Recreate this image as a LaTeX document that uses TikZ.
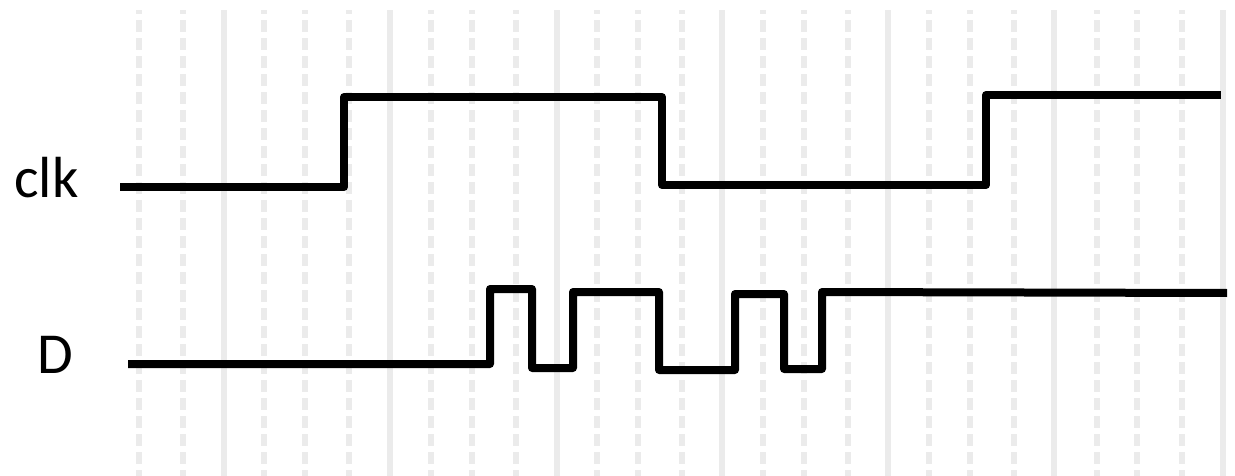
\documentclass[tikz,border=0pt]{standalone}
\usepackage{fontspec}
\setmainfont{Carlito}
\tikzset{
  gridsolid/.style={draw=black!8, line width=6pt},
  griddash/.style={draw=black!8, line width=6pt, dash pattern=on 12pt off 6pt, dash phase=8pt},
  signal/.style={draw=black, line width=8pt, line join=round},
  lbl/.style={inner sep=0pt, anchor=base west, font=\fontsize{58}{70}\selectfont}
}
\begin{document}
\begin{tikzpicture}[x=1pt,y=-1pt]
\useasboundingbox (0,0) rectangle (1235,476);
\foreach \gx in {224,390,557,722,888,1054,1223}{
  \draw[gridsolid] (\gx,10) -- (\gx,476);
}
\foreach \gx in {139,183,264,305,349,431,472,516,597,638,682,763,804,848,929,970,1014,1097,1137,1182}{
  \draw[griddash] (\gx,10) -- (\gx,476);
}
\node[lbl] (clk) at (14,197) {clk};
\node[lbl] (d) at (37,373) {D};
\draw[signal] (120,187) -- (344,187) -- (344,97) -- (662,97) -- (662,185) -- (986,185) -- (986,95) -- (1221,95);
\draw[signal] (128,364) -- (490,364) -- (490,289) -- (532,289) -- (532,368) -- (573,368) -- (573,292) -- (659,292) -- (659,370) -- (735,370) -- (735,294) -- (784,294) -- (784,369) -- (822,369) -- (822,292) -- (1227,293);
\end{tikzpicture}
\end{document}
